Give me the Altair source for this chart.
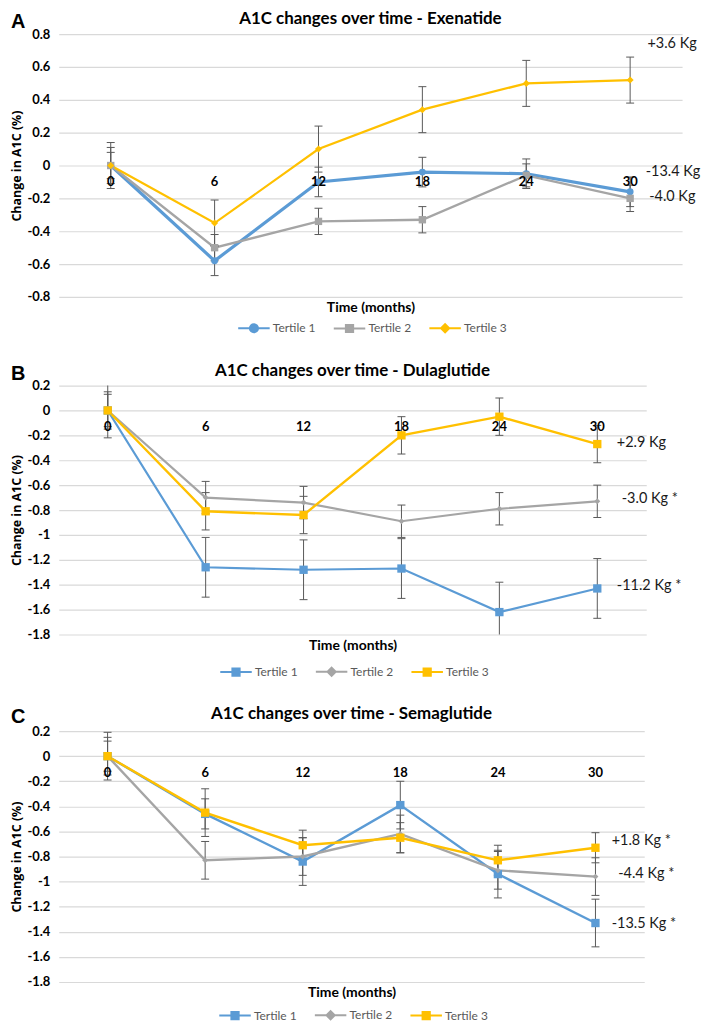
import altair as alt
import pandas as pd

months = [0, 6, 12, 18, 24, 30]
series_names = ["Tertile 1", "Tertile 2", "Tertile 3"]
series_colors = ["#5B9BD5", "#A5A5A5", "#FFC000"]

# ---- Panel A : Exenatide ----
exe_title = "A1C changes over time - Exenatide"
exe_t1 = [0.0, -0.58, -0.10, -0.04, -0.05, -0.16]
exe_t2 = [0.0, -0.50, -0.34, -0.33, -0.06, -0.20]
exe_t3 = [0.0, -0.35, 0.10, 0.34, 0.50, 0.52]
exe_t1_err = [0.11, 0.09, 0.09, 0.09, 0.09, 0.09]
exe_t2_err = [0.08, 0.08, 0.08, 0.08, 0.07, 0.08]
exe_t3_err = [0.14, 0.14, 0.14, 0.14, 0.14, 0.14]
exe_notes = ["+3.6 Kg", "-13.4 Kg", "-4.0 Kg"]
exe_note_x = [31.0, 30.9, 31.1]
exe_note_y = [0.74, -0.04, -0.19]
exe_ticks = [0.8, 0.6, 0.4, 0.2, 0.0, -0.2, -0.4, -0.6, -0.8]

# ---- Panel B : Dulaglutide ----
dula_title = "A1C changes over time - Dulaglutide"
dula_t1 = [0.0, -1.26, -1.28, -1.27, -1.62, -1.43]
dula_t2 = [0.0, -0.70, -0.74, -0.89, -0.79, -0.73]
dula_t3 = [0.0, -0.81, -0.84, -0.20, -0.05, -0.27]
dula_t1_err = [0.22, 0.24, 0.24, 0.24, 0.24, 0.24]
dula_t2_err = [0.13, 0.13, 0.13, 0.13, 0.13, 0.13]
dula_t3_err = [0.15, 0.15, 0.15, 0.15, 0.15, 0.15]
dula_notes = ["+2.9 Kg", "-3.0 Kg *", "-11.2 Kg *"]
dula_note_x = [31.2, 31.5, 31.2]
dula_note_y = [-0.26, -0.71, -1.41]
dula_ticks = [0.2, 0.0, -0.2, -0.4, -0.6, -0.8, -1.0, -1.2, -1.4, -1.6, -1.8]

# ---- Panel C : Semaglutide ----
sema_title = "A1C changes over time - Semaglutide"
sema_t1 = [0.0, -0.46, -0.84, -0.39, -0.94, -1.33]
sema_t2 = [0.0, -0.83, -0.80, -0.62, -0.91, -0.96]
sema_t3 = [0.0, -0.45, -0.71, -0.65, -0.83, -0.73]
sema_t1_err = [0.19, 0.12, 0.19, 0.19, 0.19, 0.19]
sema_t2_err = [0.15, 0.15, 0.15, 0.15, 0.15, 0.15]
sema_t3_err = [0.12, 0.19, 0.12, 0.12, 0.12, 0.12]
sema_notes = ["+1.8 Kg *", "-4.4 Kg *", "-13.5 Kg *"]
sema_note_x = [31.0, 31.4, 31.0]
sema_note_y = [-0.68, -0.94, -1.34]
sema_ticks = [0.2, 0.0, -0.2, -0.4, -0.6, -0.8, -1.0, -1.2, -1.4, -1.6, -1.8]

FONT = "Lato"
ERR_COLOR = "#595959"

PATH_CIRCLE = "M-1,0H1M0.26,0A0.26,0.26,0,1,1,-0.26,0A0.26,0.26,0,1,1,0.26,0Z"
PATH_SQUARE = "M-1,0H1M-0.23,-0.23H0.23V0.23H-0.23Z"
PATH_DIAMOND = "M-1,0H1M0,-0.26L0.26,0L0,0.26L-0.26,0Z"

x_axis = alt.Axis(title="Time (months)", labels=False, ticks=False, domain=False, grid=False,
                  titleFont=FONT, titleFontSize=14, titleFontWeight="bold", titleColor="#000000",
                  titlePadding=4)


def y_axis(ticks):
    return alt.Axis(values=ticks, title="Change in A1C (%)", grid=True, gridColor="#d9d9d9",
                    gridWidth=1.2, domain=False, ticks=False, labelFont=FONT, labelFontSize=13,
                    labelFontWeight="bold", labelColor="#000000", labelPadding=9,
                    labelExpr="replace(format(datum.value, '.1~f'), '\u2212', '-')",
                    titleFont="Open Sans", titleFontSize=12.5, titleFontWeight="bold",
                    titleColor="#000000", titlePadding=3)


def make_panel(title, values, errors, shapes, sizes, widths, legend_paths, notes, note_x, note_y,
               y_domain, ticks, width, height, legend_gap, title_offset):
    rows = []
    for name, vals, errs in zip(series_names, values, errors):
        for m, v, e in zip(months, vals, errs):
            rows.append({"month": m, "series": name, "value": v, "lo": v - e, "hi": v + e})
    df = pd.DataFrame(rows)
    xs = alt.Scale(domain=[-3, 33], nice=False, zero=False)
    ys = alt.Scale(domain=y_domain, nice=False, zero=False)
    yax = y_axis(ticks)
    x = alt.X("month:Q", scale=xs, axis=x_axis)
    color = alt.Color("series:N", scale=alt.Scale(domain=series_names, range=series_colors), legend=None)
    base = alt.Chart(df)

    layers = []
    for name, w in zip(series_names, widths):
        layers.append(base.transform_filter(alt.datum.series == name).mark_line(strokeWidth=w).encode(
            x=x, y=alt.Y("value:Q", scale=ys, axis=yax), color=color))
    layers.append(base.mark_rule(color=ERR_COLOR, strokeWidth=1, clip=True).encode(
        x=x, y=alt.Y("lo:Q", scale=ys, axis=yax), y2="hi:Q"))
    for fld in ["lo", "hi"]:
        layers.append(base.mark_rule(color=ERR_COLOR, strokeWidth=1, clip=True, xOffset=-4, x2Offset=4).encode(
            x=x, x2="month:Q", y=alt.Y(f"{fld}:Q", scale=ys, axis=yax)))
    for name, shp, sz in zip(series_names, shapes, sizes):
        layers.append(base.transform_filter(alt.datum.series == name).mark_point(
            shape=shp, size=sz, filled=True, opacity=1).encode(
            x=x, y=alt.Y("value:Q", scale=ys, axis=yax), color=color))

    cat_df = pd.DataFrame({"month": months})
    layers.append(alt.Chart(cat_df).mark_text(font=FONT, fontSize=13, fontWeight="bold", color="#000000",
                                               dy=17).encode(
        x=x, y=alt.YDatum(0.0, scale=ys, axis=yax), text=alt.Text("month:Q", format="d")))

    note_df = pd.DataFrame({"label": notes, "nx": note_x, "ny": note_y})
    layers.append(alt.Chart(note_df).mark_text(font=FONT, fontSize=14.5, color="#1a1a1a", align="left",
                                                baseline="middle").encode(
        x=alt.X("nx:Q", scale=xs, axis=x_axis), y=alt.Y("ny:Q", scale=ys, axis=yax), text="label:N"))

    leg = alt.Legend(title=None, orient="none", direction="horizontal", legendX=width / 2 - 134,
                     legendY=height + legend_gap, labelFont=FONT, labelFontSize=12, labelColor="#595959",
                     symbolSize=1000, symbolStrokeWidth=2, columnPadding=14, labelOffset=2, padding=0)
    leg_df = pd.DataFrame({"series": series_names})
    layers.append(alt.Chart(leg_df).mark_point(filled=True, strokeWidth=2, clip=True, opacity=1).encode(
        x=alt.value(-1000), y=alt.value(-1000),
        fill=alt.Fill("series:N", scale=alt.Scale(domain=series_names, range=series_colors), legend=leg),
        stroke=alt.Stroke("series:N", scale=alt.Scale(domain=series_names, range=series_colors), legend=leg),
        shape=alt.Shape("series:N", scale=alt.Scale(domain=series_names, range=legend_paths), legend=leg)))

    chart = alt.layer(*layers).properties(
        width=width, height=height,
        title=alt.Title(title, font=FONT, fontSize=17, fontWeight="bold", color="#000000",
                        anchor="middle", offset=title_offset))
    return chart


def wrap(letter, chart):
    return alt.vconcat(chart).resolve_scale(
        fill="independent", stroke="independent", shape="independent").resolve_legend(
        fill="independent", stroke="independent", shape="independent").properties(
        title=alt.Title(letter, font="Liberation Sans", fontSize=20, fontWeight="bold", color="#000000",
                        anchor="start", frame="bounds", offset=-22))


panel_a = make_panel(exe_title, [exe_t1, exe_t2, exe_t3], [exe_t1_err, exe_t2_err, exe_t3_err],
                     ["circle", "square", "diamond"], [48, 55, 50], [3.2, 2.4, 2.2],
                     [PATH_CIRCLE, PATH_SQUARE, PATH_DIAMOND], exe_notes, exe_note_x, exe_note_y,
                     [-0.8, 0.8], exe_ticks, 626, 264, 14, 0)
panel_b = make_panel(dula_title, [dula_t1, dula_t2, dula_t3], [dula_t1_err, dula_t2_err, dula_t3_err],
                     ["square", "diamond", "square"], [70, 35, 70], [2.2, 2.2, 2.4],
                     [PATH_SQUARE, PATH_DIAMOND, PATH_SQUARE], dula_notes, dula_note_x, dula_note_y,
                     [-1.8, 0.2], dula_ticks, 590, 250, 20, 0)
panel_c = make_panel(sema_title, [sema_t1, sema_t2, sema_t3], [sema_t1_err, sema_t2_err, sema_t3_err],
                     ["square", "diamond", "square"], [70, 35, 70], [2.4, 2.4, 2.4],
                     [PATH_SQUARE, PATH_DIAMOND, PATH_SQUARE], sema_notes, sema_note_x, sema_note_y,
                     [-1.8, 0.2], sema_ticks, 588, 252, 16, 2)

chart = alt.vconcat(wrap("A", panel_a), wrap("B", panel_b), wrap("C", panel_c), spacing=25).resolve_scale(
    fill="independent", stroke="independent", shape="independent").resolve_legend(
    fill="independent", stroke="independent", shape="independent").properties(
    padding={"left": 2, "top": 0, "right": 0, "bottom": 0}, background="white").configure_view(stroke=None)

chart.save("out.html", embed_options={"renderer": "svg", "actions": False})
